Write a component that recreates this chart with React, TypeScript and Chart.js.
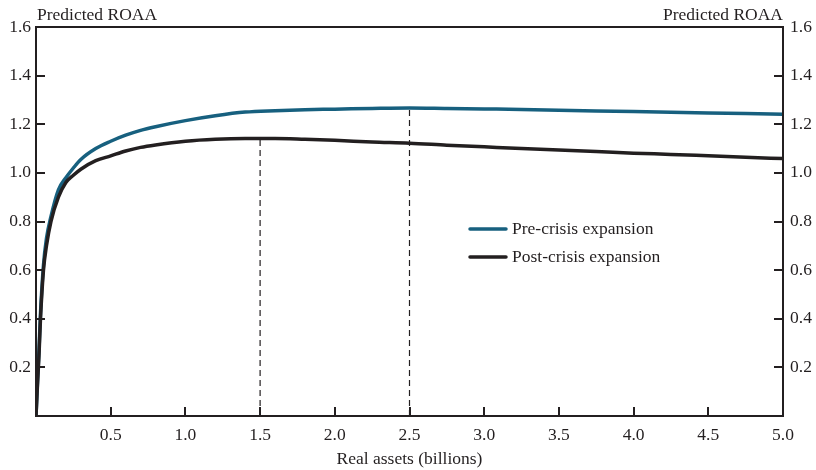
import React, { useEffect, useRef } from "react";
import { Chart, registerables } from "chart.js";

Chart.register(...registerables);

const xValues = [0, 0.01, 0.02, 0.03, 0.05, 0.07, 0.1, 0.15, 0.2, 0.25, 0.3, 0.4, 0.5, 0.6, 0.7, 0.8, 1.0, 1.2, 1.4, 1.6, 1.8, 2.0, 2.25, 2.5, 2.75, 3.0, 3.25, 3.5, 3.75, 4.0, 4.25, 4.5, 4.75, 5.0];
const postCrisis = [0, 0.13, 0.25, 0.4, 0.6, 0.7, 0.8, 0.9, 0.96, 0.99, 1.015, 1.05, 1.07, 1.09, 1.105, 1.115, 1.13, 1.138, 1.141, 1.141, 1.138, 1.134, 1.127, 1.122, 1.114, 1.107, 1.1, 1.094, 1.088, 1.081, 1.076, 1.07, 1.064, 1.059];
const preCrisis = [0, 0.14, 0.27, 0.42, 0.62, 0.73, 0.82, 0.93, 0.98, 1.02, 1.055, 1.1, 1.13, 1.155, 1.175, 1.19, 1.215, 1.235, 1.25, 1.256, 1.26, 1.262, 1.265, 1.267, 1.265, 1.263, 1.261, 1.258, 1.255, 1.252, 1.249, 1.246, 1.244, 1.241];
const seriesLabels = ["Pre-crisis expansion", "Post-crisis expansion"];
const dashedAt = [
  { x: 1.5, top: 1.141 },
  { x: 2.5, top: 1.267 },
];
const xTickValues = [0.5, 1.0, 1.5, 2.0, 2.5, 3.0, 3.5, 4.0, 4.5];
const yTickValues = [0.2, 0.4, 0.6, 0.8, 1.0, 1.2, 1.4];
const yAxisLabel = "Predicted ROAA";
const xAxisLabel = "Real assets (billions)";

const TEAL = "#17607f";
const DARK = "#231f20";
const FONT = "'Liberation Serif', 'DejaVu Serif', serif";
const FS = 17.5;

export default function App() {
  const ref = useRef<HTMLCanvasElement | null>(null);
  useEffect(() => {
    if (!ref.current) return;
    const toPts = (ys: number[]) => xValues.map((x, i) => ({ x, y: ys[i] }));

    const framePlugin = {
      id: "frame",
      afterDatasetsDraw(chart: any) {
        const { ctx, chartArea: a, scales } = chart;
        const xs = scales.x;
        const ys = scales.y;
        ctx.save();
        ctx.strokeStyle = DARK;
        ctx.lineWidth = 2;
        ctx.strokeRect(a.left, a.top, a.right - a.left, a.bottom - a.top);
        ctx.beginPath();
        xTickValues.forEach((v) => {
          const px = Math.round(xs.getPixelForValue(v));
          ctx.moveTo(px, a.bottom);
          ctx.lineTo(px, a.bottom - 9);
        });
        yTickValues.forEach((v) => {
          const py = Math.round(ys.getPixelForValue(v));
          ctx.moveTo(a.left, py);
          ctx.lineTo(a.left + 9, py);
          ctx.moveTo(a.right, py);
          ctx.lineTo(a.right - 9, py);
        });
        ctx.stroke();

        // axis header labels
        ctx.fillStyle = DARK;
        ctx.font = `${FS}px ${FONT}`;
        ctx.textBaseline = "alphabetic";
        ctx.textAlign = "left";
        ctx.fillText(yAxisLabel, a.left + 1, a.top - 7);
        ctx.textAlign = "right";
        ctx.fillText(yAxisLabel, a.right, a.top - 7);

        // legend
        const lx = a.left + 434;
        const ly = a.top + 202;
        const cols = [TEAL, DARK];
        ctx.lineWidth = 3.5;
        ctx.lineCap = "round";
        ctx.textAlign = "left";
        ctx.textBaseline = "middle";
        seriesLabels.forEach((lab, i) => {
          const yy = ly + i * 28;
          ctx.strokeStyle = cols[i];
          ctx.beginPath();
          ctx.moveTo(lx, yy);
          ctx.lineTo(lx + 36, yy);
          ctx.stroke();
          ctx.fillText(lab, lx + 42, yy);
        });
        ctx.restore();
      },
    };

    const tickFont = { family: FONT, size: FS };
    const chart = new Chart(ref.current, {
      type: "line",
      data: {
        datasets: [
          {
            label: seriesLabels[1],
            data: toPts(postCrisis),
            borderColor: DARK,
            borderWidth: 3.5,
            pointRadius: 0,
            cubicInterpolationMode: "monotone",
          },
          {
            label: seriesLabels[0],
            data: toPts(preCrisis),
            borderColor: TEAL,
            borderWidth: 3.5,
            pointRadius: 0,
            cubicInterpolationMode: "monotone",
          },
          ...dashedAt.map((d) => ({
            label: "dash",
            data: [
              { x: d.x, y: 0 },
              { x: d.x, y: d.top },
            ],
            borderColor: DARK,
            borderWidth: 1.2,
            borderDash: [6, 4],
            pointRadius: 0,
          })),
        ] as any,
      },
      options: {
        responsive: false,
        animation: false,
        devicePixelRatio: 1,
        layout: { padding: { top: 27, left: 0, right: 0, bottom: 0 } },
        plugins: { legend: { display: false }, tooltip: { enabled: false } },
        scales: {
          x: {
            type: "linear",
            min: 0,
            max: 5,
            afterFit: (s: any) => {
              s.height = 54;
            },
            afterBuildTicks: (s: any) => {
              s.ticks = [0, ...xTickValues, 5].map((v) => ({ value: v }));
            },
            ticks: {
              font: tickFont,
              color: DARK,
              padding: 9,
              maxRotation: 0,
              autoSkip: false,
              callback: (v: any) => (v === 0 ? "" : Number(v).toFixed(1)),
            },
            grid: { display: false, drawTicks: false },
            border: { display: false },
            title: { display: true, text: xAxisLabel, font: tickFont, color: DARK, padding: { top: 0, bottom: 0 } },
          },
          y: {
            type: "linear",
            position: "left",
            min: 0,
            max: 1.6,
            afterFit: (s: any) => {
              s.width = 36;
            },
            afterBuildTicks: (s: any) => {
              s.ticks = [0, ...yTickValues, 1.6].map((v) => ({ value: v }));
            },
            ticks: {
              font: tickFont,
              color: DARK,
              padding: 5,
              autoSkip: false,
              callback: (v: any) => (v === 0 ? "" : Number(v).toFixed(1)),
            },
            grid: { display: false, drawTicks: false },
            border: { display: false },
          },
          y2: {
            type: "linear",
            position: "right",
            min: 0,
            max: 1.6,
            afterFit: (s: any) => {
              s.width = 33;
            },
            afterBuildTicks: (s: any) => {
              s.ticks = [0, ...yTickValues, 1.6].map((v) => ({ value: v }));
            },
            ticks: {
              font: tickFont,
              color: DARK,
              padding: 7,
              autoSkip: false,
              callback: (v: any) => (v === 0 ? "" : Number(v).toFixed(1)),
            },
            grid: { display: false, drawTicks: false },
            border: { display: false },
          },
        },
      } as any,
      plugins: [framePlugin],
    });
    return () => chart.destroy();
  }, []);

  return (
    <div style={{ position: "absolute", left: 0, top: 0, width: 816, height: 470, background: "#fff" }}>
      <canvas ref={ref} width={816} height={470} />
    </div>
  );
}
